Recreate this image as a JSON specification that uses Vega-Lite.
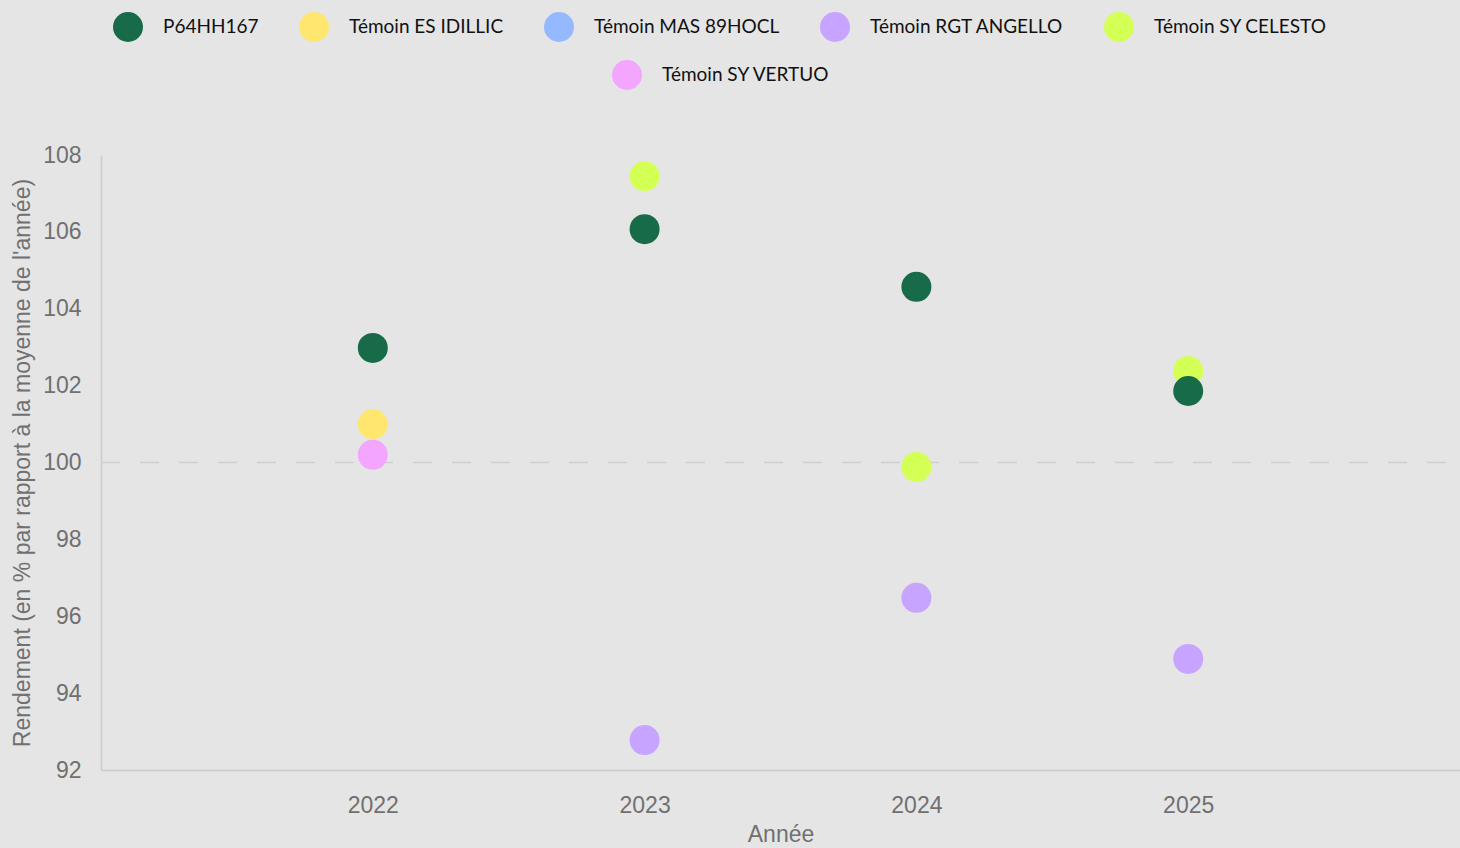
{
  "$schema": "https://vega.github.io/schema/vega-lite/v6.json",
  "width": 1359,
  "height": 615,
  "autosize": {"type": "none"},
  "padding": {"left": 101, "top": 155, "right": 0, "bottom": 78},
  "background": "#e5e5e5",
  "config": {
    "view": {"stroke": null},
    "font": "Liberation Sans",
    "axis": {"grid": false, "ticks": false, "domainColor": "#cccccc", "domainWidth": 1.5,
             "labelColor": "#707070", "labelFontSize": 23, "labelFont": "Liberation Sans",
             "titleColor": "#707070", "titleFontSize": 23, "titleFontWeight": "normal", "titleFont": "Liberation Sans"},
    "legend": {"symbolType": "circle", "symbolSize": 900, "symbolStrokeWidth": 0, "symbolOpacity": 1,
               "labelFont": "Lato", "labelFontSize": 19, "labelColor": "#111111", "labelOffset": 20,
               "columnPadding": 40, "labelLimit": 400, "padding": 0}
  },
  "datasets": {
    "temoins": [
      {"annee": 2022, "variete": "Témoin ES IDILLIC", "rendement": 101.0},
      {"annee": 2023, "variete": "Témoin SY CELESTO", "rendement": 107.45},
      {"annee": 2023, "variete": "Témoin RGT ANGELLO", "rendement": 92.78},
      {"annee": 2024, "variete": "Témoin SY CELESTO", "rendement": 99.88},
      {"annee": 2024, "variete": "Témoin RGT ANGELLO", "rendement": 96.48},
      {"annee": 2025, "variete": "Témoin SY CELESTO", "rendement": 102.38},
      {"annee": 2025, "variete": "Témoin RGT ANGELLO", "rendement": 94.89}
    ],
    "vertuo": [
      {"annee": 2022, "variete": "Témoin SY VERTUO", "rendement": 100.2}
    ],
    "hybride": [
      {"annee": 2022, "variete": "P64HH167", "rendement": 102.98},
      {"annee": 2023, "variete": "P64HH167", "rendement": 106.07},
      {"annee": 2024, "variete": "P64HH167", "rendement": 104.57},
      {"annee": 2025, "variete": "P64HH167", "rendement": 101.86}
    ],
    "ref": [{"ref": 100}]
  },
  "encoding": {
    "x": {"field": "annee", "type": "quantitative",
          "scale": {"domain": [2021, 2026], "nice": false, "zero": false},
          "axis": {"values": [2022, 2023, 2024, 2025], "format": "d", "title": "Année", "labelPadding": 24, "titlePadding": 6}},
    "y": {"field": "rendement", "type": "quantitative",
          "scale": {"domain": [92, 108], "nice": false, "zero": false},
          "axis": {"values": [92, 94, 96, 98, 100, 102, 104, 106, 108], "title": "Rendement (en % par rapport à la moyenne de l'année)", "labelPadding": 20, "titlePadding": 8}}
  },
  "layer": [
    {
      "data": {"name": "ref"},
      "mark": {"type": "rule", "color": "#cfcfcf", "strokeWidth": 1.5, "strokeDash": [19, 20], "strokeDashOffset": 25},
      "encoding": {"x": null, "y": {"field": "ref", "type": "quantitative"}}
    },
    {
      "data": {"name": "temoins"},
      "mark": {"type": "circle", "size": 900, "opacity": 1},
      "encoding": {
        "color": {
          "field": "variete", "type": "nominal",
          "scale": {
            "domain": ["P64HH167", "Témoin ES IDILLIC", "Témoin MAS 89HOCL", "Témoin RGT ANGELLO", "Témoin SY CELESTO"],
            "range": ["#176b48", "#ffe76f", "#94b9ff", "#c6a4ff", "#d4ff55"]
          },
          "legend": {"title": null, "orient": "none", "legendX": 12, "legendY": -143, "direction": "horizontal"}
        }
      }
    },
    {
      "data": {"name": "vertuo"},
      "mark": {"type": "circle", "size": 900, "opacity": 1},
      "encoding": {
        "fill": {
          "field": "variete", "type": "nominal",
          "scale": {"domain": ["Témoin SY VERTUO"], "range": ["#f4a6ff"]},
          "legend": {"title": null, "orient": "none", "legendX": 511, "legendY": -95, "direction": "horizontal"}
        }
      }
    },
    {
      "data": {"name": "hybride"},
      "mark": {"type": "circle", "size": 900, "opacity": 1},
      "encoding": {
        "color": {
          "field": "variete", "type": "nominal",
          "scale": {
            "domain": ["P64HH167", "Témoin ES IDILLIC", "Témoin MAS 89HOCL", "Témoin RGT ANGELLO", "Témoin SY CELESTO"],
            "range": ["#176b48", "#ffe76f", "#94b9ff", "#c6a4ff", "#d4ff55"]
          }
        }
      }
    }
  ]
}
